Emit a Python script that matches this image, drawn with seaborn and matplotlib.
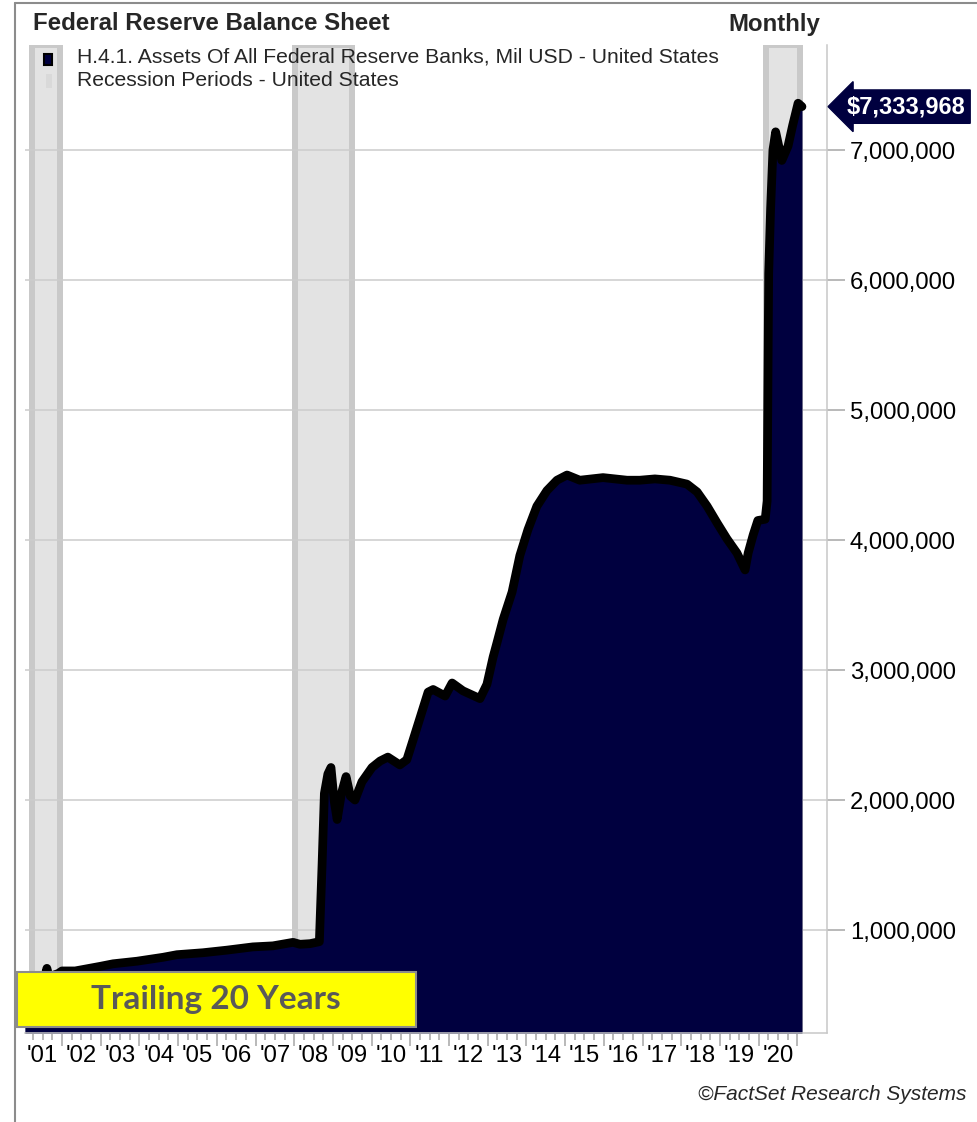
import numpy as np
import pandas as pd
import matplotlib
matplotlib.use("Agg")
import matplotlib.pyplot as plt
from matplotlib.patches import Rectangle
from matplotlib.lines import Line2D
import seaborn as sns

# DATA (Mil USD)
years = [2001.04, 2001.30, 2001.55, 2001.61, 2001.66, 2001.90, 2002.00, 2002.34,
         2002.98, 2003.32, 2003.94, 2004.61, 2004.97, 2005.64, 2006.26, 2006.93,
         2007.45, 2007.97, 2008.15, 2008.41, 2008.65, 2008.72, 2008.78, 2008.87,
         2008.95, 2009.03, 2009.11, 2009.22, 2009.34, 2009.45, 2009.57, 2009.75,
         2010.01, 2010.22, 2010.42, 2010.73, 2010.91, 2011.07, 2011.46, 2011.59,
         2011.90, 2012.08, 2012.36, 2012.80, 2012.98, 2013.14, 2013.24, 2013.40,
         2013.63, 2013.83, 2014.04, 2014.27, 2014.53, 2014.79, 2015.05, 2015.38,
         2015.98, 2016.60, 2016.93, 2017.32, 2017.71, 2018.15, 2018.41, 2018.67,
         2018.93, 2019.18, 2019.44, 2019.65, 2019.73, 2019.86, 2019.98, 2020.17,
         2020.22, 2020.26, 2020.31, 2020.37, 2020.44, 2020.60, 2020.76, 2020.88,
         2021.02, 2021.12]
assets = [600000, 610000, 630000, 705000, 640000, 665000, 685000, 685000,
          720000, 740000, 760000, 790000, 810000, 825000, 845000, 870000,
          878000, 905000, 890000, 895000, 910000, 1500000, 2050000, 2200000,
          2250000, 2000000, 1850000, 2050000, 2180000, 2030000, 2000000, 2140000,
          2250000, 2300000, 2330000, 2270000, 2310000, 2460000, 2830000, 2850000,
          2800000, 2900000, 2840000, 2780000, 2890000, 3100000, 3210000, 3390000,
          3600000, 3880000, 4080000, 4260000, 4380000, 4460000, 4500000, 4460000,
          4480000, 4460000, 4460000, 4470000, 4460000, 4430000, 4370000, 4260000,
          4130000, 4010000, 3900000, 3770000, 3900000, 4040000, 4150000, 4160000,
          4300000, 6050000, 6550000, 7000000, 7140000, 6920000, 7030000, 7190000,
          7360000, 7333968]
recession_start = [2001.23, 2008.02, 2020.19]
recession_end = [2001.95, 2009.49, 2021.07]
year_labels = ["'01", "'02", "'03", "'04", "'05", "'06", "'07", "'08", "'09", "'10",
               "'11", "'12", "'13", "'14", "'15", "'16", "'17", "'18", "'19", "'20"]
y_ticks = [1000000, 2000000, 3000000, 4000000, 5000000, 6000000, 7000000]
last_label = "\\$7,333,968"

NAVY = "#00003f"
W, H = 977, 1122

sns.set_theme(style="white")
plt.rcParams["font.family"] = ["Liberation Sans", "DejaVu Sans"]

df = pd.DataFrame({"year": years, "assets": assets})

fig = plt.figure(figsize=(W / 100, H / 100), dpi=100)
ax = fig.add_axes([25 / W, 1 - 1033 / H, 802 / W, 988 / H])

# recession bands
for s, e in zip(recession_start, recession_end):
    ax.axvspan(s, e, facecolor="#e3e3e3", edgecolor="#c9c9c9", lw=4.3, zorder=0)

ax.set_axisbelow(True)
ax.yaxis.grid(True, color="#cccccc", lw=1.1)
ax.xaxis.grid(False)

ax.fill_between(df["year"], 0, df["assets"], color=NAVY, lw=0, zorder=2)
sns.lineplot(data=df, x="year", y="assets", ax=ax, color="black", lw=6.3,
             zorder=3, solid_capstyle="round", solid_joinstyle="round")

ax.set_xlim(2001.044, 2021.767)
ax.set_ylim(207700, 7808000)
ax.set_xlabel("")
ax.set_ylabel("")

# y axis on the right
ax.yaxis.tick_right()
ax.set_yticks(y_ticks, labels=[f"{v:,}" for v in y_ticks])
ax.tick_params(axis="y", right=True, left=False, length=13, width=1.1,
               color="#a6a6a6", pad=3.5, labelsize=17.2, labelcolor="black")

# x axis: year boundaries + quarter ticks, labels mid-year
major = list(range(2002, 2022))
ax.set_xticks(major, labels=[""] * len(major))
minor, minor_labels = [], []
for i, yr in enumerate(range(2001, 2021)):
    for q in (0.25, 0.5, 0.75):
        minor.append(yr + q)
        minor_labels.append(year_labels[i] if q == 0.5 else "")
ax.set_xticks(minor, labels=minor_labels, minor=True)
ax.tick_params(axis="x", which="major", bottom=True, length=9.4, width=1.1,
               color="#a6a6a6")
ax.tick_params(axis="x", which="minor", bottom=True, length=5, width=1.1,
               color="#a6a6a6", labelsize=17.2, pad=3.5, labelcolor="black")

for side in ["left", "top"]:
    ax.spines[side].set_visible(False)
for side in ["right", "bottom"]:
    ax.spines[side].set_color("#c8c8c8")
    ax.spines[side].set_linewidth(1.1)

# last value tag
ax.text(1.024, assets[-1], last_label, transform=ax.get_yaxis_transform(),
        ha="left", va="center", color="white", fontsize=17, fontweight="bold",
        bbox=dict(boxstyle="larrow,pad=0.22", fc=NAVY, ec=NAVY),
        clip_on=False, zorder=10)

# titles and legend
fig.text(33 / W, 1 - 24 / H, "Federal Reserve Balance Sheet", fontsize=17.3,
         fontweight="bold", va="center")
fig.text(820 / W, 1 - 24 / H, "Monthly", fontsize=17.3, fontweight="bold",
         va="center", ha="right")
fig.text(77 / W, 1 - 57 / H,
         "H.4.1. Assets Of All Federal Reserve Banks, Mil USD - United States",
         fontsize=15.2, va="center")
fig.text(77 / W, 1 - 81 / H, "Recession Periods - United States", fontsize=15.2,
         va="center")
fig.add_artist(Rectangle((44 / W, 1 - 65 / H), 8 / W, 11 / H, fc=NAVY,
                         ec="black", lw=1.5, transform=fig.transFigure))
fig.add_artist(Rectangle((46 / W, 1 - 88 / H), 6 / W, 14 / H, fc="#d9d9d9",
                         ec="none", transform=fig.transFigure))

# trailing 20 years box
fig.add_artist(Rectangle((17 / W, 1 - 1027 / H), 399 / W, 55 / H, fc="#ffff00",
                         ec="#8c8c8c", lw=1.5, transform=fig.transFigure,
                         zorder=5))
fig.text(216 / W, 1 - 1000 / H, "Trailing 20 Years", family="Lato",
         fontweight="bold", fontsize=24, color="#595959", ha="center",
         va="center", zorder=6)

fig.text(966 / W, 1 - 1095 / H, "©FactSet Research Systems", style="italic",
         fontsize=15, ha="right", va="center")

# outer frame
fig.add_artist(Line2D([15 / W, 15 / W], [0, 1 - 3 / H], color="#8c8c8c", lw=1.5))
fig.add_artist(Line2D([15 / W, 1], [1 - 3 / H, 1 - 3 / H], color="#8c8c8c", lw=1.5))

fig.savefig("out.png", dpi=100)
